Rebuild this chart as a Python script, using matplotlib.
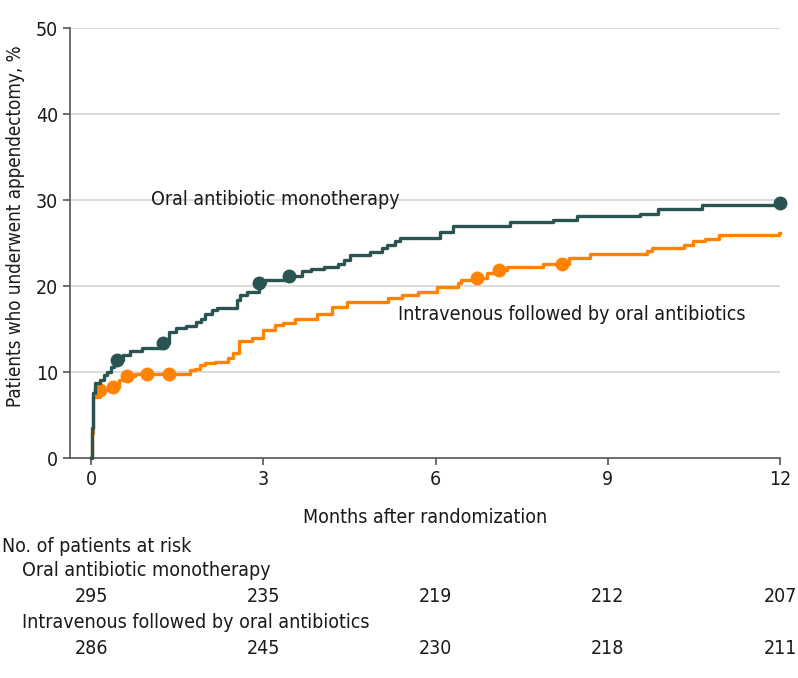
import numpy as np
import matplotlib
matplotlib.use("Agg")
import matplotlib.pyplot as plt
import matplotlib.transforms as mtransforms

plt.rcParams['font.family'] = ['DejaVu Sans']
plt.rcParams['font.stretch'] = 'condensed'

# cumulative incidence of appendectomy, %
oral_t = [0, 0.01, 0.02, 0.03, 0.07, 0.16, 0.22, 0.28, 0.34, 0.40, 0.46, 0.56, 0.68, 0.88,
          1.26, 1.35, 1.48, 1.65, 1.83, 1.92, 1.99, 2.10, 2.19, 2.54, 2.60, 2.71, 2.93, 3.03,
          3.44, 3.67, 3.84, 4.05, 4.31, 4.40, 4.51, 4.86, 5.06, 5.15, 5.30, 5.39, 6.08, 6.31,
          7.30, 8.05, 8.46, 9.56, 9.88, 10.64, 12.0]
oral_y = [0, 1.7, 3.5, 7.6, 8.7, 9.1, 9.6, 10.0, 10.6, 11.0, 11.4, 12.0, 12.4, 12.8,
          13.4, 14.7, 15.1, 15.3, 15.8, 16.2, 16.8, 17.2, 17.5, 18.4, 19.0, 19.3, 20.3, 20.7,
          21.2, 21.7, 22.0, 22.2, 22.6, 23.0, 23.6, 24.0, 24.4, 24.8, 25.2, 25.6, 26.3, 27.0,
          27.4, 27.7, 28.1, 28.4, 29.0, 29.4, 29.6]
oral_cens = [0.46, 1.26, 2.93, 3.44, 12.0]

iv_t = [0, 0.02, 0.04, 0.16, 0.30, 0.48, 0.58, 0.77, 1.72, 1.81, 1.90, 1.99, 2.16, 2.39,
        2.48, 2.58, 2.80, 3.00, 3.20, 3.35, 3.55, 3.93, 4.19, 4.45, 5.18, 5.41, 5.70, 6.02,
        6.40, 6.45, 6.72, 6.89, 7.03, 7.24, 7.88, 8.32, 8.69, 9.68, 9.77, 10.32, 10.49, 10.70,
        10.93, 11.98, 12.0]
iv_y = [0, 2.9, 7.1, 7.9, 8.3, 9.1, 9.5, 9.8, 10.2, 10.4, 10.8, 11.0, 11.2, 11.6,
        12.2, 13.6, 13.9, 14.9, 15.5, 15.7, 16.2, 16.8, 17.6, 18.1, 18.6, 19.0, 19.3, 19.9,
        20.3, 20.7, 20.9, 21.5, 21.9, 22.2, 22.6, 23.2, 23.7, 24.1, 24.4, 24.8, 25.2, 25.5,
        25.9, 26.2, 26.2]
iv_cens = [0.16, 0.39, 0.62, 0.97, 1.35, 6.72, 7.10, 8.20]

risk_times = [0, 3, 6, 9, 12]
oral_risk = [295, 235, 219, 212, 207]
iv_risk = [286, 245, 230, 218, 211]

oral_label = "Oral antibiotic monotherapy"
iv_label = "Intravenous followed by oral antibiotics"

green = '#2a5451'
orange = '#ff8300'
txt = '#1a1a1a'


def at(ts, ys, c):
    i = np.searchsorted(ts, c, side='right') - 1
    return ys[i]


fig = plt.figure(figsize=(7.98, 6.78), dpi=100)
ax = fig.add_axes([70 / 798, 1 - 458 / 678, 710 / 798, 430 / 678])

for y in [10, 20, 30, 40, 50]:
    ax.axhline(y, color='#d9d9d9', lw=1.3, zorder=0)

ax.step(iv_t, iv_y, where='post', color=orange, lw=2.4, zorder=3, clip_on=False)
ax.step(oral_t, oral_y, where='post', color=green, lw=2.4, zorder=4, clip_on=False)
ax.plot(iv_cens, [at(iv_t, iv_y, c) for c in iv_cens], 'o', color=orange, ms=9,
        zorder=3, clip_on=False)
ax.plot(oral_cens, [at(oral_t, oral_y, c) for c in oral_cens], 'o', color=green, ms=9,
        zorder=4, clip_on=False)

ax.text(1.05, 30.1, oral_label, fontsize=14, color=txt, va='center', ha='left')
ax.text(5.35, 16.7, iv_label, fontsize=14, color=txt, va='center', ha='left')

ax.set_xlim(-0.366, 12)
ax.set_ylim(0, 50)
ax.set_xticks(risk_times)
ax.set_yticks([0, 10, 20, 30, 40, 50])
for s in ['top', 'right']:
    ax.spines[s].set_visible(False)
ax.spines['left'].set_color('#555555')
ax.spines['bottom'].set_color('#555555')
ax.spines['left'].set_linewidth(1.2)
ax.spines['bottom'].set_linewidth(1.2)
ax.tick_params(axis='both', colors='#555555', labelcolor=txt, labelsize=14, length=5, width=1.2)
ax.set_xlabel("Months after randomization", fontsize=14, color=txt, labelpad=14)
ax.set_ylabel("Patients who underwent appendectomy, %", fontsize=13.5, color=txt)
ax.yaxis.set_label_coords(-0.063, 0.54)

# number at risk table
trans = mtransforms.blended_transform_factory(ax.transData, fig.transFigure)
fig.text(2 / 798, 1 - 546 / 678, "No. of patients at risk", fontsize=14, color=txt, va='center')
fig.text(22 / 798, 1 - 571 / 678, oral_label, fontsize=14, color=txt, va='center')
fig.text(22 / 798, 1 - 622 / 678, iv_label, fontsize=14, color=txt, va='center')
for t, a, b in zip(risk_times, oral_risk, iv_risk):
    ax.text(t, 1 - 597 / 678, str(a), transform=trans, fontsize=14, color=txt,
            ha='center', va='center', clip_on=False)
    ax.text(t, 1 - 648 / 678, str(b), transform=trans, fontsize=14, color=txt,
            ha='center', va='center', clip_on=False)

fig.savefig("out.png", dpi=100)
